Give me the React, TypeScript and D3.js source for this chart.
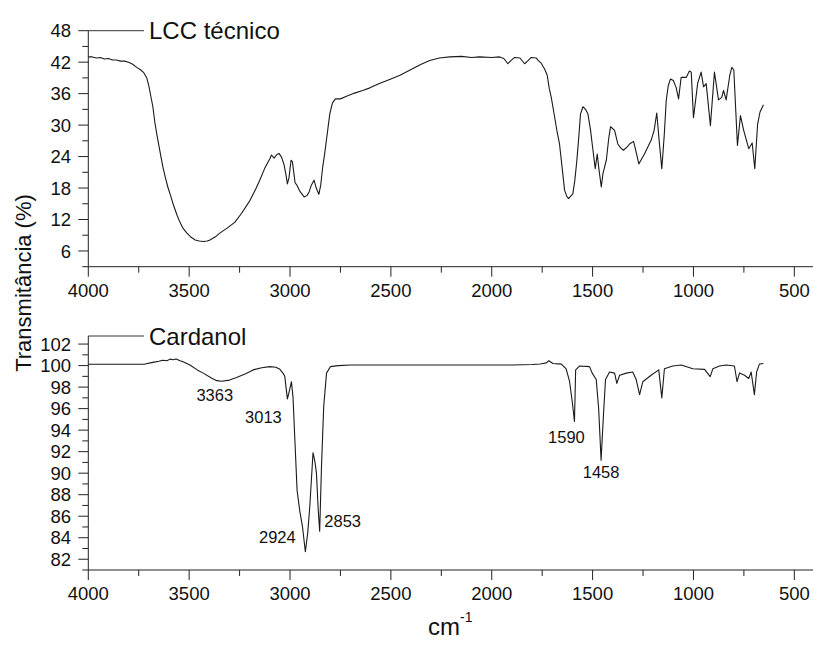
import React from "react";
import * as d3 from "d3";

// ---------- DATA ----------
const lccWavenumber = [
  4000, 3980, 3960, 3940, 3920, 3900, 3880, 3860, 3840, 3820, 3800, 3780, 3760, 3740, 3725, 3710, 3700, 3690, 3680, 3670,
  3660, 3650, 3640, 3630, 3618, 3605, 3590, 3580, 3560, 3546, 3530, 3511, 3490, 3470, 3450, 3430, 3410, 3397, 3370, 3348,
  3310, 3273, 3240, 3199, 3170, 3150, 3125, 3100, 3092, 3079, 3065, 3055, 3042, 3030, 3020, 3013, 3005, 2995, 2988, 2975,
  2965, 2950, 2930, 2915, 2905, 2895, 2881, 2870, 2857, 2848, 2838, 2828, 2815, 2803, 2790, 2775, 2750, 2720, 2680, 2640,
  2604, 2560, 2500, 2455, 2400, 2350, 2307, 2260, 2208, 2150, 2100, 2060, 2000, 1961, 1940, 1920, 1905, 1887, 1860, 1837,
  1820, 1804, 1780, 1771, 1755, 1738, 1725, 1715, 1705, 1688, 1675, 1664, 1650, 1639, 1628, 1619, 1610, 1598, 1588, 1578,
  1568, 1560, 1548, 1535, 1523, 1510, 1502, 1487, 1477, 1469, 1457, 1449, 1432, 1420, 1411, 1400, 1391, 1375, 1360, 1347,
  1330, 1317, 1297, 1285, 1271, 1243, 1210, 1195, 1182, 1170, 1157, 1145, 1135, 1125, 1114, 1100, 1086, 1074, 1061, 1036,
  1020, 1011, 1000, 979, 962, 950, 937, 916, 896, 876, 860, 851, 838, 820, 810, 800, 782, 767, 751, 726,
  709, 696, 682, 670, 653,
];
const lccTransmittance = [
  43.0, 43.0, 42.8, 42.9, 42.6, 42.7, 42.4, 42.4, 42.2, 42.2, 42.0, 41.6, 41.0, 40.5, 40.0, 39.0, 37.5, 35.5, 33.5, 30.5,
  28.2, 26.1, 24.0, 22.0, 20.0, 18.1, 16.3, 15.0, 12.8, 11.5, 10.3, 9.4, 8.6, 8.1, 7.9, 7.8, 7.9, 8.1, 8.7, 9.4,
  10.4, 11.5, 13.2, 15.6, 17.8, 19.5, 21.8, 23.6, 24.3, 23.7, 24.4, 24.6, 23.9, 22.5, 20.5, 18.8, 20.0, 23.3, 23.0, 19.0,
  18.5, 17.3, 16.3, 16.6, 17.3, 18.5, 19.5, 18.0, 16.8, 18.5, 22.0, 24.6, 28.5, 32.1, 34.2, 35.0, 35.0, 35.5, 36.1, 36.6,
  37.1, 37.9, 38.8, 39.5, 40.6, 41.6, 42.3, 42.8, 43.0, 43.1, 42.9, 43.0, 42.9, 43.0, 42.7, 41.7, 42.3, 42.9, 42.8, 41.7,
  42.3, 42.9, 42.8, 42.4, 41.8, 40.7, 39.5, 37.0, 35.3, 31.5, 28.5, 26.4, 21.5, 17.6, 16.4, 16.0, 16.4, 16.9, 19.5, 23.3,
  28.0, 32.1, 33.5, 33.0, 32.1, 29.0, 26.4, 21.7, 24.5, 21.7, 18.2, 20.7, 23.3, 27.5, 29.7, 29.3, 29.0, 26.4, 25.6, 25.2,
  25.8, 26.4, 26.9, 25.0, 22.6, 24.5, 27.1, 29.0, 32.3, 27.0, 21.7, 28.0, 34.7, 37.5, 38.8, 38.5, 37.2, 35.0, 39.1, 39.1,
  40.3, 40.1, 31.4, 38.0, 40.1, 37.3, 37.9, 29.9, 40.1, 34.8, 35.3, 36.6, 34.8, 39.5, 41.0, 40.5, 26.1, 31.8, 29.0, 25.5,
  26.6, 21.7, 30.2, 32.5, 33.9,
];

const cardWavenumber = [
  4000, 3900, 3800, 3719, 3680, 3650, 3630, 3610, 3595, 3579, 3565, 3545, 3530, 3496, 3460, 3430, 3390, 3363, 3339, 3300,
  3265, 3220, 3183, 3140, 3100, 3070, 3050, 3035, 3026, 3013, 3005, 2993, 2985, 2976, 2965, 2951, 2938, 2924, 2912, 2902,
  2886, 2876, 2869, 2860, 2853, 2844, 2833, 2819, 2800, 2760, 2700, 2500, 2300, 2100, 1900, 1800, 1760, 1746, 1730, 1717,
  1697, 1655, 1631, 1614, 1600, 1590, 1584, 1565, 1515, 1502, 1482, 1470, 1458, 1446, 1436, 1416, 1391, 1380, 1366, 1333,
  1301, 1284, 1267, 1251, 1210, 1172, 1157, 1144, 1103, 1061, 1003, 945, 917, 904, 871, 838, 797, 784, 772, 747,
  726, 714, 698, 687, 673, 653,
];
const cardTransmittance = [
  100.12, 100.12, 100.12, 100.14, 100.3, 100.4, 100.5, 100.45, 100.6, 100.55, 100.62, 100.45, 100.35, 100.05, 99.6, 99.3, 98.85, 98.6, 98.55, 98.65,
  98.9, 99.25, 99.6, 99.8, 99.9, 99.85, 99.65, 99.3, 99.0, 96.9, 97.5, 98.5, 97.0, 93.1, 88.4, 86.4, 85.0, 82.7, 84.5, 86.9,
  91.9, 91.0, 90.0, 86.5, 84.6, 90.6, 96.2, 99.3, 99.9, 100.0, 100.05, 100.05, 100.05, 100.05, 100.05, 100.1, 100.15, 100.2, 100.25, 100.45,
  100.2, 100.14, 99.7, 98.5, 96.5, 94.8, 99.6, 99.96, 99.9, 99.3, 98.7, 96.0, 91.2, 95.5, 98.7, 99.4, 99.3, 98.35, 99.1, 99.3,
  99.4, 98.7, 97.3, 98.5, 99.1, 99.6, 97.0, 99.7, 99.96, 100.05, 99.7, 99.65, 98.97, 99.7, 99.96, 100.05, 99.96, 98.5, 99.3, 99.1,
  98.8, 99.4, 97.3, 99.4, 100.14, 100.2,
];

const xTickValues = [4000, 3500, 3000, 2500, 2000, 1500, 1000, 500];
const lccYTicks = [6, 12, 18, 24, 30, 36, 42, 48];
const cardYTicks = [82, 84, 86, 88, 90, 92, 94, 96, 98, 100, 102];

const peakLabels = ["3363", "3013", "2924", "2853", "1590", "1458"];
const peakWavenumbers = [3363, 3013, 2924, 2853, 1590, 1458];
const peakMinima = [98.6, 96.9, 82.7, 84.6, 94.8, 91.2];

const lccName = "LCC técnico";
const cardName = "Cardanol";
const yTitle = "Transmitância (%)";

// label offsets (pixels) relative to the peak minimum
const peakOffsets: Record<string, [number, number]> = {
  "3363": [-2, 20],
  "3013": [-24, 24],
  "2924": [-28, -9],
  "2853": [23, -4],
  "1590": [-8, 21],
  "1458": [0, 18],
};

const FONT = "'Liberation Sans', Arial, sans-serif";

type Panel = {
  wn: number[];
  tr: number[];
  yDomain: [number, number];
  yRange: [number, number];
  yTicks: number[];
  yMinorStep: number;
  axisY: number;
  name: string;
};

const X0 = 88.3;
const xScale = d3.scaleLinear().domain([4000, 400]).range([X0, 814.5]);

function PanelView({ p, children }: { p: Panel; children?: React.ReactNode }) {
  const y = d3.scaleLinear().domain(p.yDomain).range(p.yRange);
  const pts = p.wn.map((w, i) => [w, p.tr[i]] as [number, number]);
  const line = d3
    .line<[number, number]>()
    .x((d) => xScale(d[0]))
    .y((d) => y(d[1]));
  const yMinor = d3.range(p.yDomain[0], p.yDomain[1] + 1e-6, p.yMinorStep).filter((v) => !p.yTicks.includes(v));
  const xMinor = d3.range(4000, 400, -250).filter((v) => !xTickValues.includes(v));
  const top = y(p.yDomain[1]);
  const ax = "#222";
  return (
    <g>
      {/* y axis */}
      <line x1={X0} x2={X0} y1={top} y2={p.axisY} stroke={ax} strokeWidth={1} />
      {p.yTicks.map((t) => (
        <g key={"yt" + t}>
          <line x1={X0 - 10} x2={X0} y1={y(t)} y2={y(t)} stroke={ax} strokeWidth={1} />
          <text x={71} y={y(t)} dy="0.36em" textAnchor="end" fontSize={18.5} fontFamily={FONT} fill="#111">
            {t}
          </text>
        </g>
      ))}
      {yMinor.map((t) => (
        <line key={"ym" + t} x1={X0 - 6} x2={X0} y1={y(t)} y2={y(t)} stroke={ax} strokeWidth={1} />
      ))}
      {/* x axis */}
      <line x1={X0} x2={813} y1={p.axisY} y2={p.axisY} stroke={ax} strokeWidth={1} />
      {xTickValues.map((t) => (
        <g key={"xt" + t}>
          <line x1={xScale(t)} x2={xScale(t)} y1={p.axisY} y2={p.axisY + 10} stroke={ax} strokeWidth={1} />
          <text x={xScale(t)} y={p.axisY + 30} textAnchor="middle" fontSize={18.5} fontFamily={FONT} fill="#111">
            {t}
          </text>
        </g>
      ))}
      {xMinor.map((t) => (
        <line key={"xm" + t} x1={xScale(t)} x2={xScale(t)} y1={p.axisY} y2={p.axisY + 6} stroke={ax} strokeWidth={1} />
      ))}
      {/* legend */}
      <line x1={X0} x2={144} y1={top} y2={top} stroke="#333" strokeWidth={1} />
      <text x={149} y={top} dy="0.36em" fontSize={24} fontFamily={FONT} fill="#111">
        {p.name}
      </text>
      {/* spectrum */}
      <path d={line(pts) || ""} fill="none" stroke="#1a1a1a" strokeWidth={1.1} strokeLinejoin="round" />
      {children}
    </g>
  );
}

export default function App() {
  const top: Panel = {
    wn: lccWavenumber,
    tr: lccTransmittance,
    yDomain: [3, 48],
    yRange: [266.7, 30.7],
    yTicks: lccYTicks,
    yMinorStep: 3,
    axisY: 266.7,
    name: lccName,
  };
  const bottom: Panel = {
    wn: cardWavenumber,
    tr: cardTransmittance,
    yDomain: [81, 102.75],
    yRange: [570, 336],
    yTicks: cardYTicks,
    yMinorStep: 1,
    axisY: 570,
    name: cardName,
  };
  const yB = d3.scaleLinear().domain(bottom.yDomain).range(bottom.yRange);
  return (
    <svg
      width={813}
      height={646}
      style={{ position: "absolute", left: 0, top: 0, background: "#fff" }}
      viewBox="0 0 813 646"
    >
      <rect x={0} y={0} width={813} height={646} fill="#fff" />
      <PanelView p={top} />
      <PanelView p={bottom}>
        {peakLabels.map((lab, i) => {
          const [dx, dy] = peakOffsets[lab];
          return (
            <text
              key={lab}
              x={xScale(peakWavenumbers[i]) + dx}
              y={yB(peakMinima[i]) + dy}
              textAnchor="middle"
              fontSize={16.5}
              fontFamily={FONT}
              fill="#111"
            >
              {lab}
            </text>
          );
        })}
      </PanelView>
      <text
        transform="translate(31,283) rotate(-90)"
        textAnchor="middle"
        fontSize={22}
        fontFamily={FONT}
        fill="#111"
      >
        {yTitle}
      </text>
      <text x={428} y={635} fontSize={24} fontFamily={FONT} fill="#111">
        cm
        <tspan dy={-13} fontSize={14}>
          -1
        </tspan>
      </text>
    </svg>
  );
}
